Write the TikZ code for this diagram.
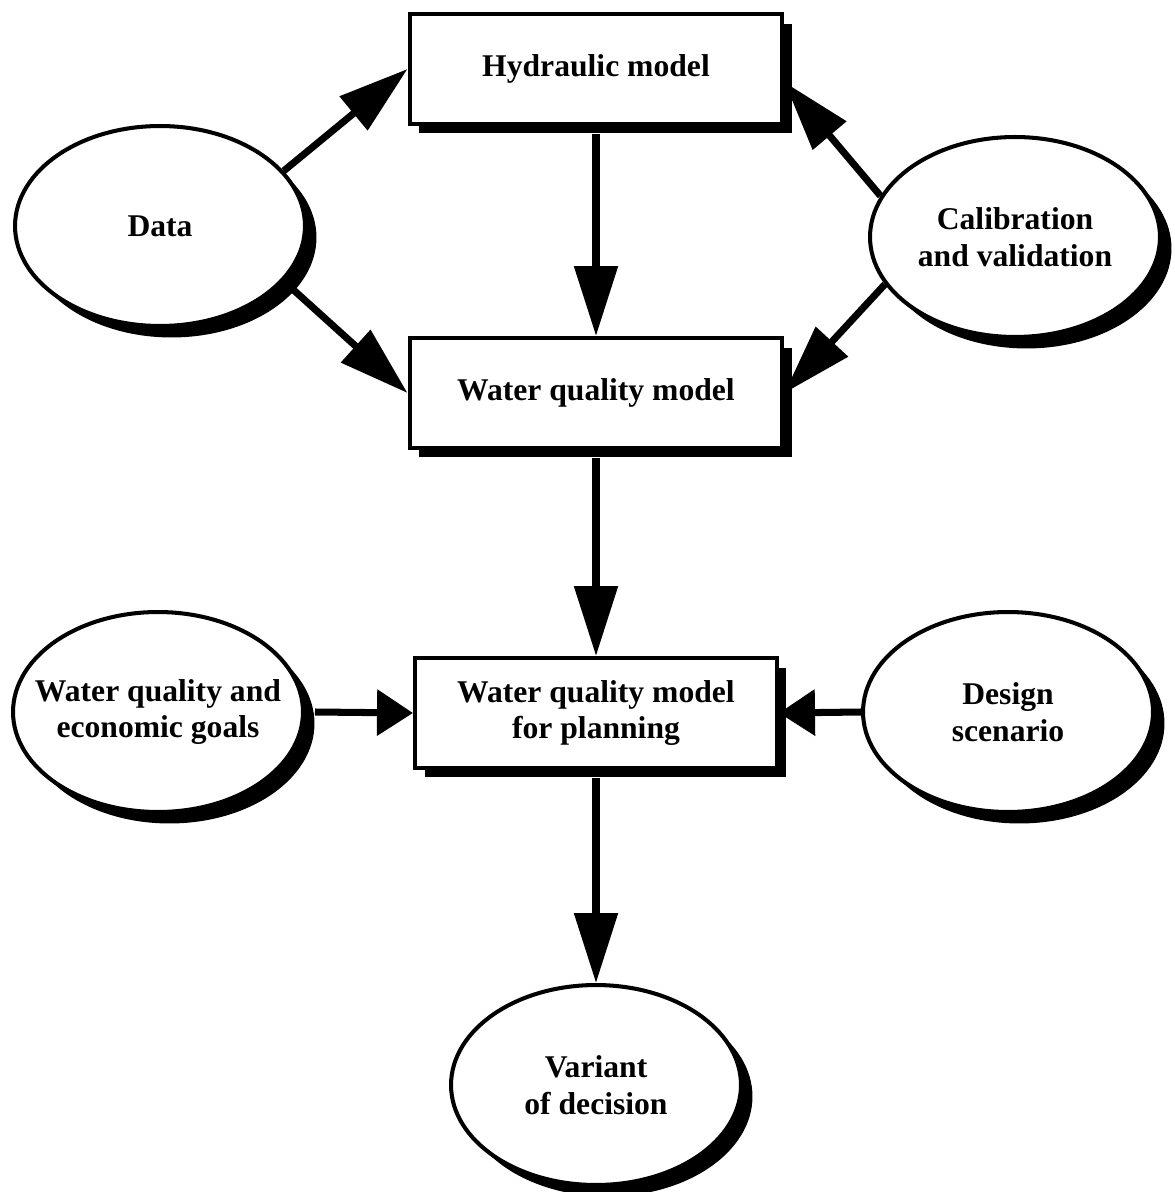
\documentclass[tikz,border=0pt]{standalone}
\usepackage{fontspec}
\setmainfont{Liberation Serif}
\usetikzlibrary{arrows.meta,shapes.geometric,shadows}
\begin{document}
\begin{tikzpicture}[x=0.02cm,y=-0.02cm,
  txt/.style={font=\fontsize{18}{21}\selectfont\bfseries, align=center},
  box/.style={txt, draw, line width=2.3pt, fill=white, minimum width=7.46cm, minimum height=2.2cm, inner sep=0pt,
    drop shadow={shadow xshift=0.19cm, shadow yshift=-0.19cm, fill=black, opacity=1}},
  oval/.style={ellipse, draw, line width=2.3pt, fill=white, minimum width=5.8cm, minimum height=4.0cm, inner sep=0pt,
    drop shadow={shadow xshift=0.23cm, shadow yshift=-0.23cm, fill=black, opacity=1}},
  arr/.style={line width=4pt, -{Triangle[length=1.4cm, width=0.85cm]}},
  arrs/.style={line width=4pt, -{Triangle[length=0.72cm, width=0.9cm]}}
]
\useasboundingbox (0,0) rectangle (1174,1192);

\node[box] (hyd) at (596,69) {Hydraulic model};
\node[box] (wq) at (596,393) {Water quality model};
\node[box, minimum width=7.24cm] (plan) at (596,713) {Water quality model\\for planning};

\node[oval] (data) at (160,226) {};
\node[txt] (dataT) at (data) {Data};
\node[oval] (cal) at (1015,237) {};
\node[txt] (calT) at (cal) {Calibration\\and validation};
\node[oval] (goal) at (158,712) {};
\node[txt] (goalT) at (goal) {Water quality and\\economic goals};
\node[oval] (des) at (1008,712) {};
\node[txt] (desT) at (des) {Design\\scenario};
\node[oval] (var) at (596,1085) {};
\node[txt] (varT) at (var) {Variant\\of decision};

\draw[arr] (data.24) -- (hyd.west);
\draw[arr] (data.-24) -- (wq.west);
\draw[arr] ([yshift=-0.16cm]hyd.south) -- (wq.north);
\draw[arr] (cal.163) -- (hyd.-4);
\draw[arr] (cal.200) -- (wq.east);
\draw[arr] ([yshift=-0.16cm]wq.south) -- (plan.north);
\draw[arrs] ([xshift=0.2cm]goal.east) -- (plan.west);
\draw[arrs] (des.west) -- (plan.east);
\draw[arr] ([yshift=-0.16cm]plan.south) -- (var.north);
\end{tikzpicture}
\end{document}
